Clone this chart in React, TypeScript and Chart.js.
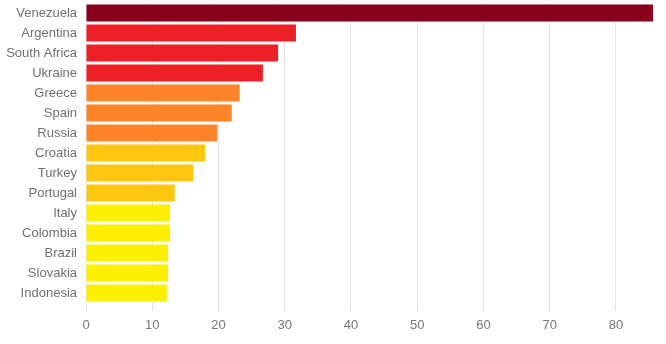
import React, { useEffect, useRef } from "react";
import { Chart, registerables } from "chart.js";

Chart.register(...registerables);

const countries = [
  "Venezuela", "Argentina", "South Africa", "Ukraine", "Greece", "Spain", "Russia",
  "Croatia", "Turkey", "Portugal", "Italy", "Colombia", "Brazil", "Slovakia", "Indonesia",
];
const values = [85.6, 31.7, 29.0, 26.7, 23.2, 22.0, 19.8, 18.0, 16.2, 13.4, 12.7, 12.7, 12.4, 12.4, 12.2];
const barColors = [
  "#89001a", "#ed1f27", "#ed1f27", "#ed1f27", "#fe8428", "#fe8428", "#fe8428",
  "#fdc70f", "#fdc70f", "#fdc70f", "#fdef00", "#fdef00", "#fdef00", "#fdef00", "#fdef00",
];
const xTicks = [0, 10, 20, 30, 40, 50, 60, 70, 80];

export default function App() {
  const ref = useRef<HTMLCanvasElement>(null);
  useEffect(() => {
    const chart = new Chart(ref.current!, {
      type: "bar",
      data: {
        labels: countries,
        datasets: [{ data: values, backgroundColor: barColors, borderWidth: 0, categoryPercentage: 1, barPercentage: 0.85 }],
      },
      options: {
        indexAxis: "y",
        animation: false,
        responsive: false,
        maintainAspectRatio: false,
        layout: { padding: { top: 3, right: 13, left: 0, bottom: 0 } },
        plugins: { legend: { display: false }, tooltip: { enabled: false } },
        scales: {
          x: {
            min: 0,
            max: values[0],
            afterBuildTicks: (s: any) => { s.ticks = xTicks.map((v) => ({ value: v })); },
            afterFit: (s: any) => { s.height = 41; s.paddingLeft = 0; s.paddingRight = 0; },
            grid: { color: "#e3e3e8", lineWidth: 1, tickLength: 8, drawTicks: true },
            border: { display: false },
            ticks: { color: "#777", font: { family: "Liberation Sans, Arial", size: 13 }, padding: 7 },
          },
          y: {
            afterFit: (s: any) => { s.width = 86; s.paddingTop = 0; s.paddingBottom = 0; },
            grid: { display: false, drawTicks: false },
            border: { display: false },
            ticks: { color: "#707070", font: { family: "Liberation Sans, Arial", size: 13 }, padding: 9 },
          },
        },
      },
    });
    return () => chart.destroy();
  }, []);
  return (
    <div style={{ position: "absolute", left: 0, top: 0, width: 666, height: 344 }}>
      <canvas ref={ref} width={666} height={344} style={{ width: 666, height: 344 }} />
    </div>
  );
}
